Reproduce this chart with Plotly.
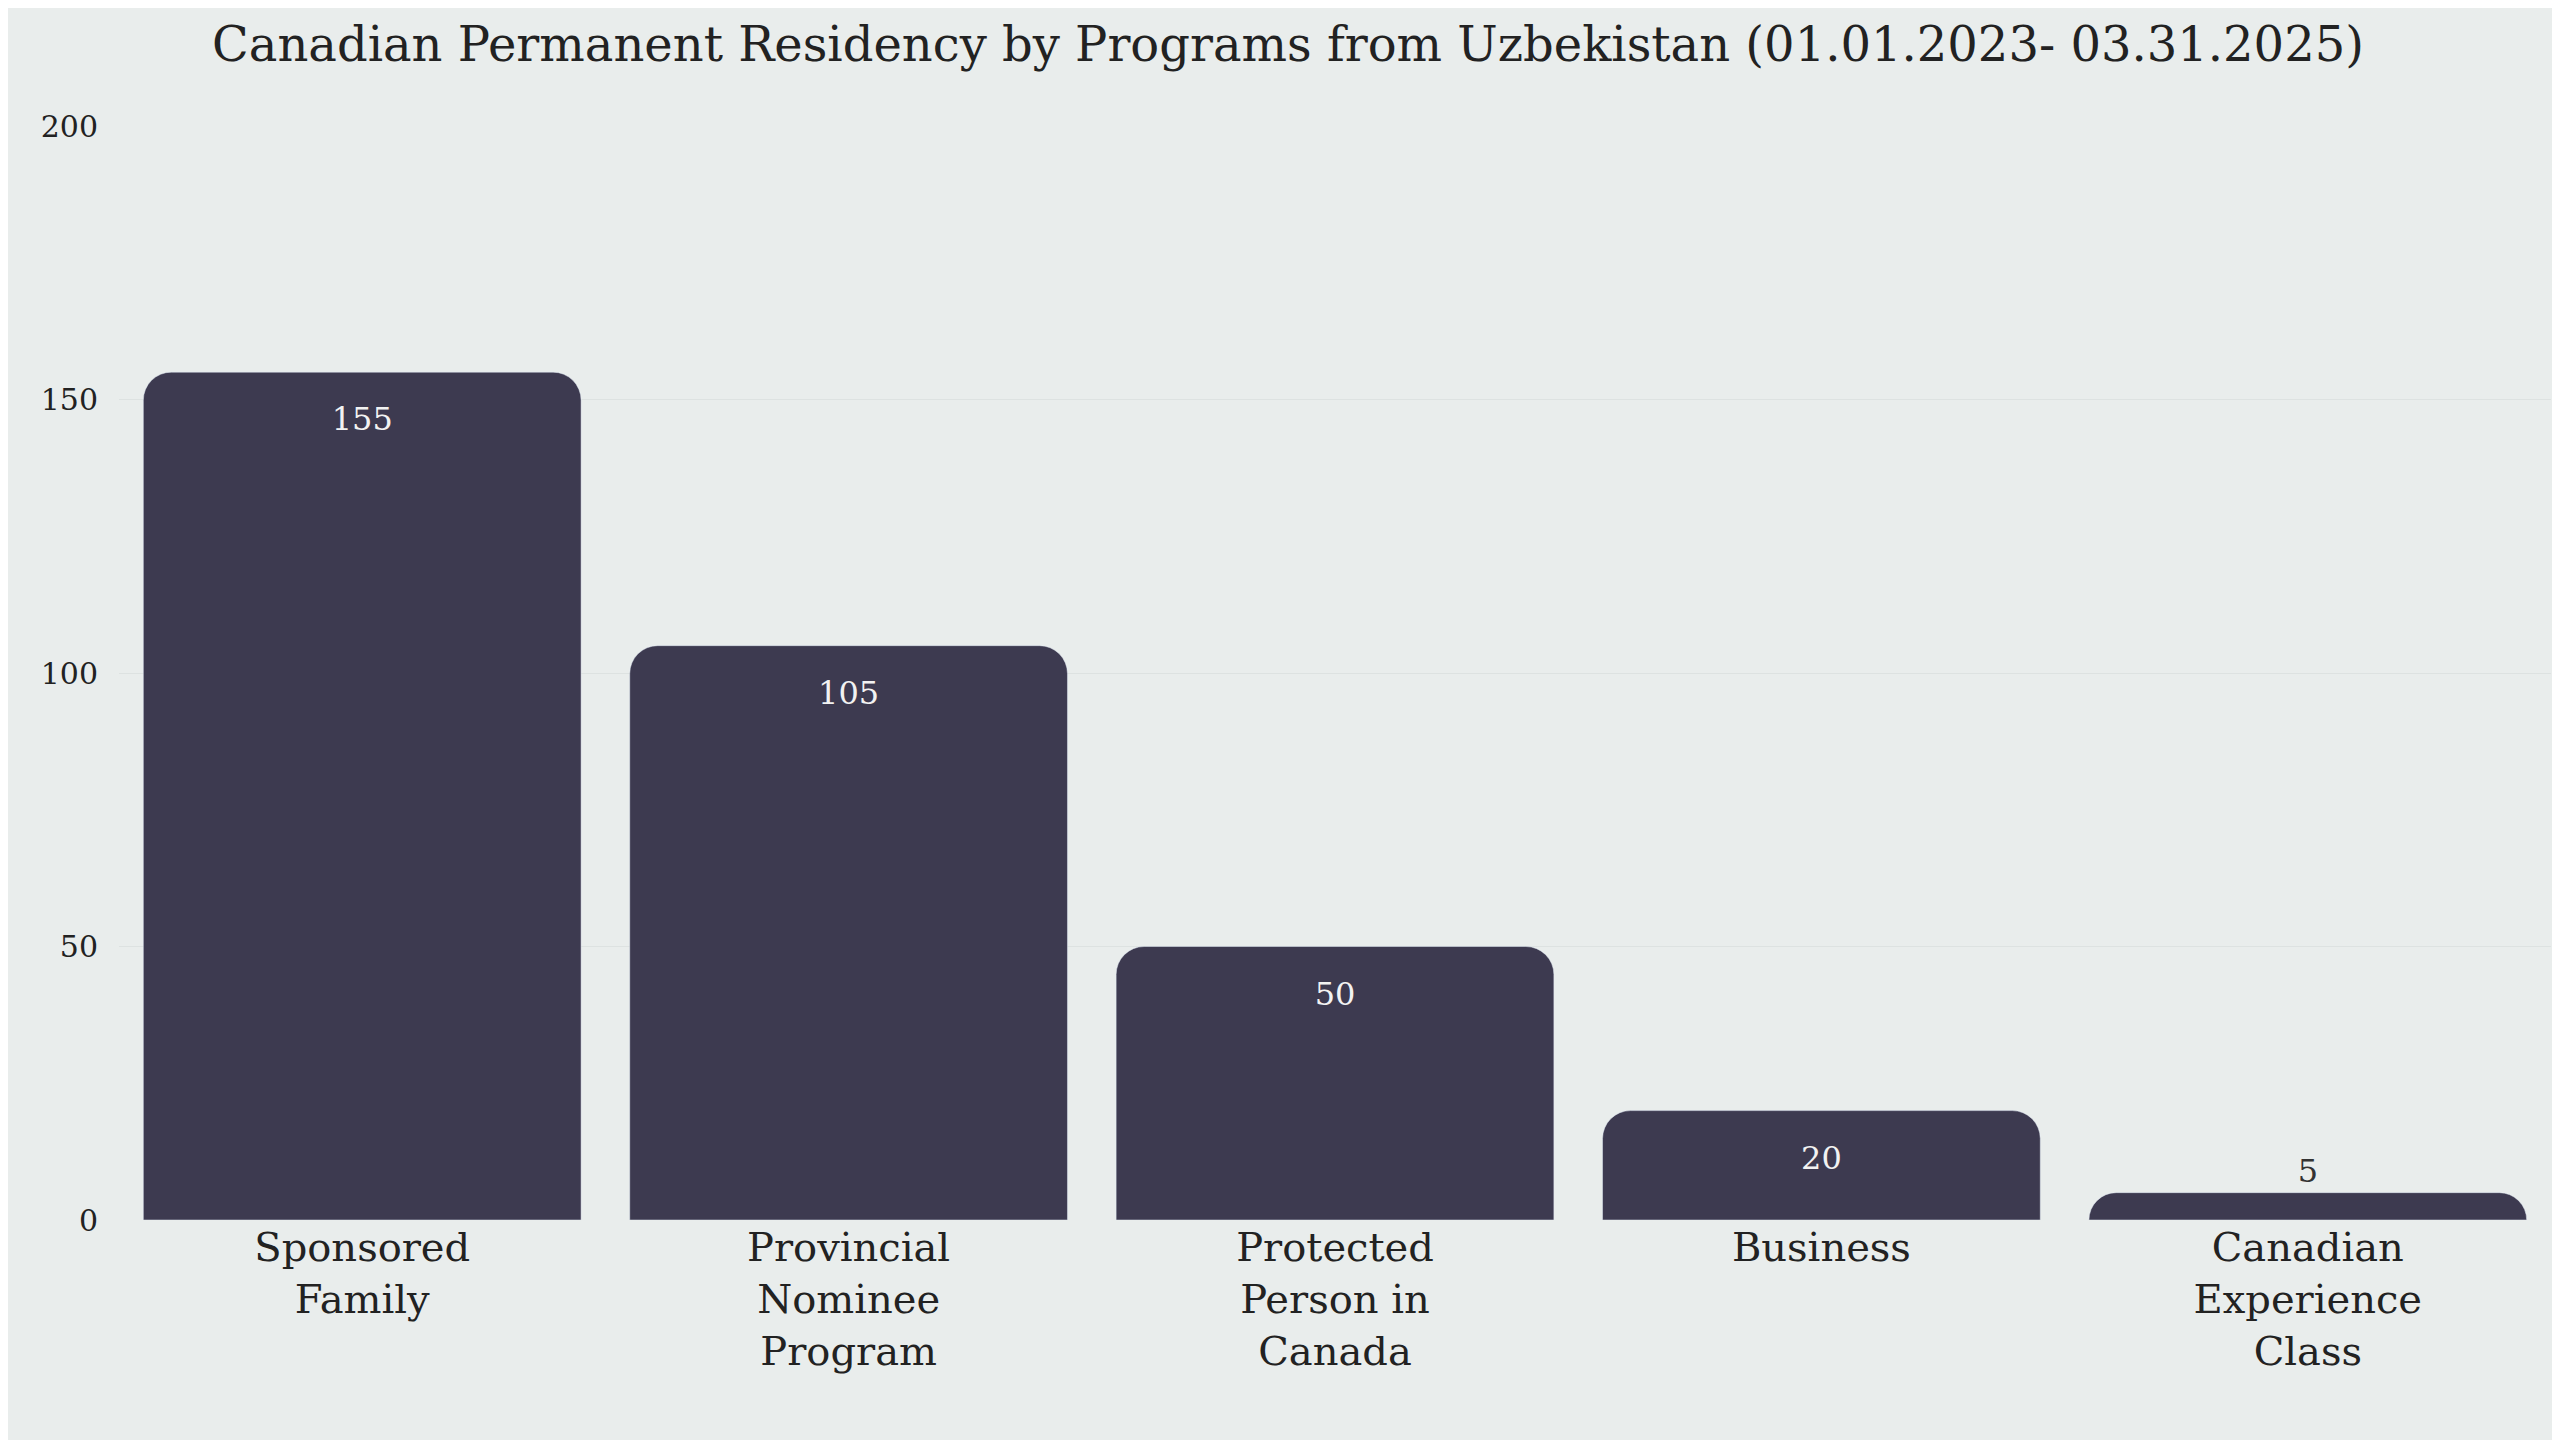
import plotly.graph_objects as go

categories = ["Sponsored<br>Family", "Provincial<br>Nominee<br>Program", "Protected<br>Person in<br>Canada", "Business", "Canadian<br>Experience<br>Class"]
values = [155, 105, 50, 20, 5]
positions = ["inside", "inside", "inside", "inside", "outside"]

FONT = "DejaVu Serif"
fig = go.Figure(go.Bar(
    x=categories, y=values, text=values, textposition=positions,
    insidetextanchor="end",
    marker=dict(color="#3d3a50", cornerradius=28),
    textfont=dict(family=FONT, size=32, color="#f2f2f2"),
    outsidetextfont=dict(family=FONT, size=32, color="#333333"),
    cliponaxis=False,
))
fig.update_layout(
    width=2560, height=1440,
    paper_bgcolor="#e9edec", plot_bgcolor="#e9edec",
    margin=dict(l=111, r=17, t=118, b=228),
    bargap=0.1,
    title=dict(text="Canadian Permanent Residency by Programs from Uzbekistan (01.01.2023- 03.31.2025)",
               x=0.5, xanchor="center", y=0.975, yanchor="middle",
               font=dict(family=FONT, size=48, color="#222222")),
    font=dict(family=FONT, color="#222222"),
    showlegend=False,
)
fig.update_yaxes(range=[0, 200], tickvals=[0, 50, 100, 150, 200], gridcolor="#dde2e1",
                 zeroline=False, tickfont=dict(size=30), ticks="", ticklabelstandoff=20)
fig.update_xaxes(tickfont=dict(size=40), range=[-0.5, 4.5], ticks="")
fig.write_html("out.html")
